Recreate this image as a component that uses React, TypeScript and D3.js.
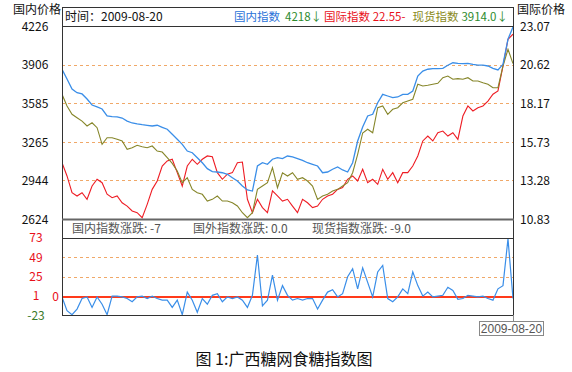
import React from 'react';
import * as d3 from 'd3';

// 国内指数 (left axis), 国际指数 (right axis), 现货指数 (left axis), 国内指数涨跌 (lower panel)
const domestic = [3867, 3786, 3703, 3672, 3662, 3620, 3570, 3554, 3537, 3479, 3473, 3471, 3462, 3437, 3421, 3413, 3407, 3402, 3396, 3402, 3385, 3369, 3327, 3286, 3244, 3188, 3174, 3133, 3091, 3042, 3017,
  3014, 3008, 2995, 2967, 2939, 2898, 2865, 2856, 3064, 3091, 3078, 3120, 3133, 3125, 3147, 3139, 3125, 3111, 3091, 3078, 3064, 3008, 3014, 3037, 3056, 3031, 3014, 3091, 3271, 3388,
  3479, 3493, 3589, 3659, 3645, 3631, 3637, 3659, 3659, 3686, 3811, 3852, 3867, 3872, 3872, 3875, 3900, 3921, 3916, 3913, 3916, 3908, 3902, 3902, 3894, 3875, 3861, 3908, 4116, 4218];

const spot = [3659, 3562, 3493, 3465, 3437, 3396, 3423, 3382, 3244, 3299, 3299, 3286, 3271, 3203, 3216, 3236, 3224, 3216, 3230, 3188, 3180, 3133, 3086, 3022, 2925, 2967, 2870, 2842, 2829, 2773, 2787,
  2815, 2773, 2773, 2759, 2732, 2676, 2635, 2676, 2870, 2898, 2925, 3050, 2884, 3008, 2981, 3008, 2954, 2967, 2939, 2898, 2787, 2815, 2829, 2856, 2870, 2898, 2925, 3008, 3161, 3338,
  3369, 3340, 3548, 3562, 3493, 3535, 3548, 3589, 3604, 3618, 3742, 3728, 3734, 3742, 3750, 3797, 3811, 3784, 3789, 3784, 3797, 3770, 3770, 3755, 3742, 3714, 3714, 3894, 4033, 3914];

const intl = [14.40, 13.56, 12.50, 12.29, 12.50, 12.08, 12.92, 13.35, 13.13, 12.40, 12.18, 12.29, 11.86, 11.65, 11.34, 11.23, 10.91, 11.76, 12.71, 13.24, 14.19, 14.51, 14.62, 13.77, 12.92, 14.19, 14.62, 14.30, 14.62, 14.83, 14.78,
  13.77, 13.35, 13.67, 13.77, 14.40, 14.44, 12.08, 11.23, 12.08, 11.55, 11.23, 12.61, 12.29, 11.97, 12.08, 11.65, 11.23, 12.08, 11.86, 11.55, 11.65, 12.08, 12.29, 12.40, 12.71, 12.82, 13.35, 13.56, 13.24, 13.98,
  13.13, 13.35, 13.03, 13.98, 13.35, 13.77, 13.13, 13.77, 13.77, 14.19, 14.83, 15.78, 16.09, 15.78, 16.30, 16.41, 16.09, 16.30, 15.88, 17.36, 18.00, 17.68, 17.89, 18.00, 18.31, 18.74, 18.95, 20.53, 22.23, 22.55];

const change = [0, -17, -22, -15, -2, 0, -13, 0, -9, -22, 1, 1, 0, -2, -6, 0, 1, -2, 1, -2, -4, -4, -13, -4, -22, 6, -4, -19, -2, -9, 2, 4, -6, 0, -2, 0, -4, -13, 2, 52, -11, -4, 27, -4, 14, 2,
  -4, -2, -4, -2, -2, -15, -4, 6, 9, 0, 4, 25, 35, 10, 36, 18, 0, 31, 39, -2, -6, 0, 10, 4, 31, 14, 1, 6, 0, 1, 2, 12, 8, -3, -2, 2, 1, 0, 1, -2, -4, 10, 14, 72, -2];

const leftTicks = [4226, 3906, 3585, 3265, 2944, 2624];
const rightTicks = ['23.07', '20.62', '18.17', '15.73', '13.28', '10.83'];
const lowTicks = [73, 49, 25, 1, -23];
const lastDate = '2009-08-20';

const font = '"Noto Sans CJK SC", "DejaVu Sans", sans-serif';

export default function App() {
  const L = 62, R = 513;
  const x = d3.scaleLinear().domain([0, domestic.length - 1]).range([L, R]);
  const yLeft = d3.scaleLinear().domain([2624, 4226]).range([219, 26]);
  const yRight = d3.scaleLinear().domain([10.83, 23.07]).range([219, 26]);
  const yLow = d3.scaleLinear().domain([-23, 73]).range([315.5, 238]);

  const lineLeft = d3.line<number>().x((d, i) => x(i)).y(d => yLeft(d));
  const lineRight = d3.line<number>().x((d, i) => x(i)).y(d => yRight(d));
  const lineLow = d3.line<number>().x((d, i) => x(i)).y(d => yLow(d));

  return (
    <svg width={572} height={372} style={{ position: 'absolute', left: 0, top: 0, background: '#fff' }} fontFamily={font}>
      <defs>
        <clipPath id="mainClip"><rect x={L} y={26} width={R - L} height={193} /></clipPath>
        <clipPath id="lowClip"><rect x={L} y={238} width={R - L} height={77} /></clipPath>
      </defs>

      {/* grid */}
      {leftTicks.slice(1, -1).map(t => (
        <line key={t} x1={L} x2={R} y1={Math.round(yLeft(t)) + 0.5} y2={Math.round(yLeft(t)) + 0.5} stroke="#f0a868" strokeDasharray="3,3" />
      ))}
      {[49, 25].map(t => (
        <line key={t} x1={L} x2={R} y1={Math.round(yLow(t)) + 0.5} y2={Math.round(yLow(t)) + 0.5} stroke="#f0a868" strokeDasharray="3,3" />
      ))}
      <line x1={L} x2={R} y1={yLow(0)} y2={yLow(0)} stroke="#ff3a1a" strokeWidth={2} />

      {/* series */}
      <g clipPath="url(#mainClip)" fill="none" strokeWidth={1.1}>
        <path d={lineRight(intl) || ''} stroke="#ee1c24" />
        <path d={lineLeft(spot) || ''} stroke="#86862a" />
        <path d={lineLeft(domestic) || ''} stroke="#3a8ee8" strokeWidth={1.3} />
      </g>
      <g clipPath="url(#lowClip)">
        <path d={lineLow(change) || ''} fill="none" stroke="#3a8ee8" strokeWidth={1.2} />
      </g>

      {/* frame */}
      <g fill="none" stroke="#333">
        <rect x={62.5} y={7.5} width={451} height={308} />
        <line x1={62} x2={514} y1={26.5} y2={26.5} />
        <line x1={62} x2={514} y1={219.5} y2={219.5} stroke="#666" strokeWidth={2} />
        <line x1={62} x2={514} y1={238.5} y2={238.5} />
        <line x1={513.5} x2={513.5} y1={315} y2={322} stroke="#888" />
      </g>

      {/* header */}
      <text x={65} y={21} fontSize={12} fill="#111">时间：{lastDate}</text>
      <text x={508} y={21} fontSize={11.5} textAnchor="end">
        <tspan fill="#2a72d8">国内指数</tspan>
        <tspan fill="#2e8b2e" dx={5}>4218↓</tspan>
        <tspan fill="#e8101a" dx={2}>国际指数 22.55-</tspan>
        <tspan fill="#8a8a22" dx={7}>现货指数</tspan>
        <tspan fill="#2e8b2e" dx={3}>3914.0↓</tspan>
      </text>
      <g fontSize={12} fill="#555">
        <text x={72} y={233}>国内指数涨跌: -7</text>
        <text x={193} y={233}>国外指数涨跌: 0.0</text>
        <text x={312} y={233}>现货指数涨跌: -9.0</text>
      </g>

      {/* left axis */}
      <text x={37} y={14} fontSize={12} textAnchor="middle" fill="#111">国内价格</text>
      {leftTicks.map(t => (
        <text key={t} x={35} y={yLeft(t)} dy="0.4em" fontSize={12} textAnchor="middle" fill="#111">{t}</text>
      ))}
      {lowTicks.map(t => (
        <text key={t} x={36} y={yLow(t)} dy="0.35em" fontSize={12} textAnchor="middle" fill={t < 0 ? '#3a7a2a' : '#e8101a'}>{t}</text>
      ))}
      <text x={55.5} y={yLow(0)} dy="0.3em" fontSize={12} textAnchor="middle" fill="#e8101a">0</text>

      {/* right axis */}
      <text x={517} y={14} fontSize={12} fill="#111">国际价格</text>
      {rightTicks.map(t => (
        <text key={t} x={520} y={yRight(+t)} dy="0.4em" fontSize={12} fill="#111">{t}</text>
      ))}

      {/* date tag */}
      <rect x={479.5} y={321.5} width={64} height={14} fill="#fff" stroke="#888" />
      <text x={511.5} y={332.5} fontSize={12} textAnchor="middle" fill="#555" fontFamily="'Liberation Sans', Arial, sans-serif">{lastDate}</text>

      {/* caption */}
      <text x={284} y={365} fontSize={16} textAnchor="middle" fill="#111">图 1:广西糖网食糖指数图</text>
    </svg>
  );
}
